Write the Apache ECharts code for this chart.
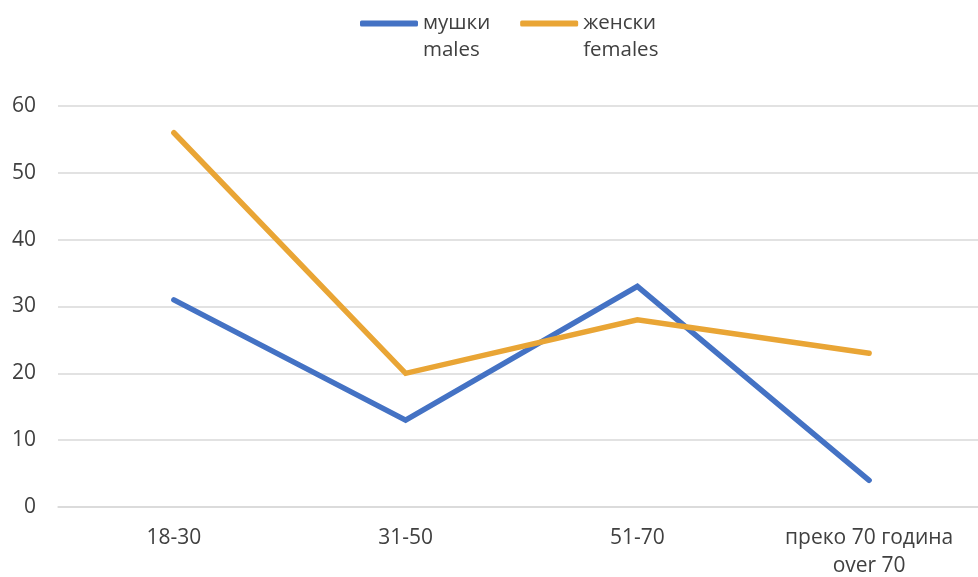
<!DOCTYPE html>
<html>
<head>
<meta charset="utf-8">
<script src="https://cdn.jsdelivr.net/npm/echarts@6/dist/echarts.min.js"></script>
<style>html,body{margin:0;padding:0;background:#fff;}#c{width:978px;height:577px;}</style>
</head>
<body>
<div id="c"></div>
<script>
const categories = ['18-30', '31-50', '51-70', 'преко 70 година\nover 70'];
const males = [31, 13, 33, 4];
const females = [56, 20, 28, 23];
const seriesNames = ['мушки\nmales', 'женски\nfemales'];
const yTicks = { min: 0, max: 60, interval: 10 };

const FONT = '"Open Sans", "Noto Sans", sans-serif';
const chart = echarts.init(document.getElementById('c'));
chart.setOption({
  animation: false,
  backgroundColor: '#ffffff',
  color: ['#4472C4', '#E9A535'],
  legend: {
    left: 355,
    top: -22,
    itemWidth: 58,
    itemHeight: 6,
    itemGap: 30,
    icon: 'roundRect',
    formatter: function (n) { return '\n' + n; },
    textStyle: { color: '#404040', fontSize: 20.5, lineHeight: 27, fontFamily: FONT }
  },
  grid: { left: 58, top: 106, width: 927, height: 401, outerBoundsMode: 'none', containLabel: false },
  xAxis: {
    type: 'category',
    data: categories,
    boundaryGap: true,
    axisLine: { show: true, lineStyle: { color: '#d9d9d9', width: 1.5 } },
    axisTick: { show: false },
    axisLabel: { color: '#404040', fontSize: 21, lineHeight: 28, margin: 17, fontFamily: FONT }
  },
  yAxis: {
    type: 'value',
    min: yTicks.min,
    max: yTicks.max,
    interval: yTicks.interval,
    axisLine: { show: false },
    axisTick: { show: false },
    splitLine: { lineStyle: { color: '#d9d9d9', width: 1.5 } },
    axisLabel: { color: '#404040', fontSize: 21, margin: 22, fontFamily: FONT }
  },
  series: [
    { name: seriesNames[0], type: 'line', data: males, symbol: 'none',
      lineStyle: { width: 5.5, cap: 'round', join: 'miter' } },
    { name: seriesNames[1], type: 'line', data: females, symbol: 'none',
      lineStyle: { width: 5.5, cap: 'round', join: 'miter' } }
  ]
});
</script>
</body>
</html>
